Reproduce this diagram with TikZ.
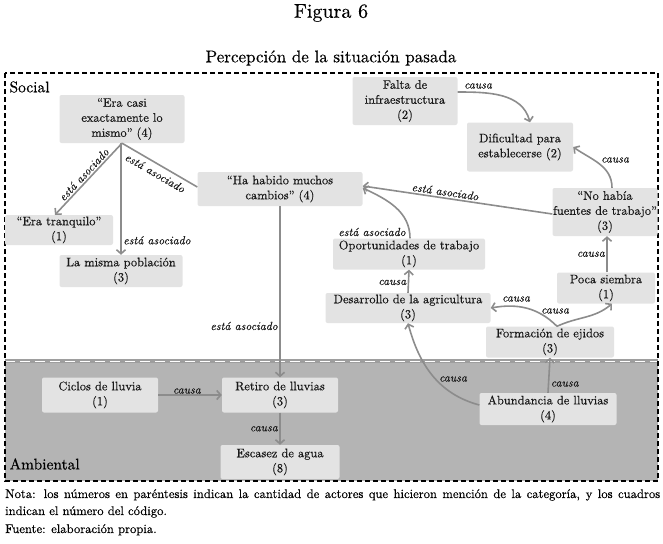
\documentclass[tikz,border=0pt]{standalone}
\usepackage{fontspec}
\setmainfont{lmroman10-regular.otf}[ItalicFont=lmroman10-italic.otf, BoldFont=lmroman10-bold.otf, FakeBold=0.35]
\usetikzlibrary{arrows.meta,calc}
\definecolor{boxfill}{HTML}{E3E3E3}
\definecolor{ambfill}{HTML}{B4B4B4}
\definecolor{arrcol}{HTML}{8C8C8C}
\tikzset{
  cbox/.style={fill=boxfill, rounded corners=2pt, inner sep=0pt, align=center,
    font=\fontsize{12.4}{15}\selectfont, text=black!90},
  arr/.style={draw=arrcol, line width=1.6pt, -{Straight Barb[length=4pt,width=9pt]}},
  plainline/.style={draw=arrcol, line width=1.6pt},
  lab/.style={font=\fontsize{11.7}{12}\selectfont\itshape, text=black!90, inner sep=1.5pt},
  notefont/.style={anchor=north west, inner sep=0pt, font=\fontsize{12.6}{14}\selectfont},
}
\begin{document}
\begin{tikzpicture}[x=1pt,y=1pt]
\useasboundingbox (0,0) rectangle (663,-543);
% titles
\node (fig) at (331,-13) {\fontsize{20}{22}\selectfont Figura 6};
\node (title) at (331,-58) {\fontsize{17}{19}\selectfont Percepción de la situación pasada};
% ambient background
\fill[ambfill] (5,-361) rectangle (658,-481);
\draw[line width=4pt, draw=black!38] (5,-361) -- (658,-361);
\draw[line width=1pt, white, dash pattern=on 10pt off 5pt] (5,-361) -- (658,-361);
% outer dashed frame
\draw[line width=1.4pt, dash pattern=on 5pt off 3pt] (5,-73) rectangle (658,-481);
\node[anchor=west, font=\fontsize{15.5}{17}\selectfont] (soc) at (6,-87) {Social};
\node[anchor=west, font=\fontsize{15.5}{17}\selectfont] (amb) at (6,-464) {Ambiental};
% nodes
\node[cbox, minimum width=125pt, minimum height=48pt] (casi) at (122,-119) {“Era casi\\exactamente lo\\mismo” (4)};
\node[cbox, minimum width=108pt, minimum height=30pt] (tranq) at (59,-230) {“Era tranquilo”\\(1)};
\node[cbox, minimum width=123pt, minimum height=32pt] (misma) at (121,-271) {La misma población\\(3)};
\node[cbox, minimum width=165pt, minimum height=34pt] (habido) at (280,-189) {“Ha habido muchos\\cambios” (4)};
\node[cbox, minimum width=105pt, minimum height=48pt] (falta) at (405,-101) {Falta de\\infraestructura\\(2)};
\node[cbox, minimum width=106pt, minimum height=49pt] (dific) at (520,-147) {Dificultad para\\establecerse (2)};
\node[cbox, minimum width=105pt, minimum height=48pt] (nohab) at (605,-212) {“No había\\fuentes de trabajo”\\(3)};
\node[cbox, minimum width=152pt, minimum height=31pt] (oport) at (409,-254) {Oportunidades de trabajo\\(1)};
\node[cbox, minimum width=165pt, minimum height=30pt] (desar) at (408,-308) {Desarrollo de la agricultura\\(3)};
\node[cbox, minimum width=98pt, minimum height=31pt] (poca) at (606,-288) {Poca siembra\\(1)};
\node[cbox, minimum width=128pt, minimum height=31pt] (ejid) at (550,-342) {Formación de ejidos\\(3)};
\node[cbox, minimum width=116pt, minimum height=35pt] (ciclos) at (100,-395) {Ciclos de lluvia\\(1)};
\node[cbox, minimum width=116pt, minimum height=35pt] (retiro) at (280,-395) {Retiro de lluvias\\(3)};
\node[cbox, minimum width=119pt, minimum height=34pt] (escas) at (280,-462) {Escasez de agua\\(8)};
\node[cbox, minimum width=137pt, minimum height=32pt] (abund) at (548,-409) {Abundancia de lluvias\\(4)};
% connectors
\draw[arr] (casi.south) -- ($(tranq.north)+(-4,0)$) node[lab, midway, above, sloped] {está asociado};
\draw[arr] ($(casi.south)+(-1,0)$) -- (misma.north) node[lab, pos=0.87, right] {está asociado};
\draw[plainline] (casi.south) -- ($(habido.west)+(0,2)$) node[lab, pos=0.5, below=2.5pt, sloped] {está asociado};
\draw[arr] (habido.south) -- (retiro.north) node[lab, pos=0.7, left] {está asociado};
\draw[arr] ($(nohab.west)+(0,-2)$) -- ($(habido.east)+(0,3)$) node[lab, pos=0.57, above, sloped] {está asociado};
\draw[arr] ($(oport.north)+(1,0)$) to[out=90, in=-25] ($(habido.east)+(0,1)$);
\node[lab] (lopo) at (372,-232) {está asociado};
\draw[arr] (desar.north) -- (oport.south) node[lab, pos=0.45, left] {causa};
\draw[arr] ($(falta.east)+(0,9)$) to[out=0, in=105] ($(dific.north)+(10,0)$);
\node[lab] (lfal) at (478,-86) {causa};
\draw[arr] ($(nohab.north)+(7,0)$) to[out=90, in=-35] ($(dific.east)+(0,0)$);
\node[lab] (lnoh) at (615,-160) {causa};
\draw[arr] ($(poca.north)+(1,0)$) -- ($(nohab.south)+(2,0)$) node[lab, midway, left] {causa};
\draw[arr] ($(ejid.north)+(7,0)$) to[out=135, in=10] (desar.east);
\node[lab] (lej1) at (516,-299) {causa};
\draw[arr] ($(ejid.north)+(7,0)$) to[out=25, in=-140] ($(poca.south)+(6,0)$);
\node[lab] (lej2) at (555,-311) {causa};
\draw[arr] (abund.north) -- (ejid.south) node[lab, pos=0.25, right] {causa};
\draw[arr] ($(abund.west)+(0,4)$) to[out=165, in=-75] (desar.south);
\node[lab] (lab1) at (453,-379) {causa};
\draw[arr] (ciclos.east) -- (retiro.west) node[lab, pos=0.45, above=-1pt] {causa};
\draw[arr] (retiro.south) -- (escas.north) node[lab, midway, left] {causa};
% notes
\node[notefont] (nota1) at (5,-489) {\makebox[655pt][s]{Nota: los números en paréntesis indican la cantidad de actores que hicieron mención de la categoría, y los cuadros}};
\node[notefont] (nota2) at (5,-506) {indican el número del código.};
\node[notefont] (fuente) at (5,-524) {Fuente: elaboración propia.};
\end{tikzpicture}
\end{document}
